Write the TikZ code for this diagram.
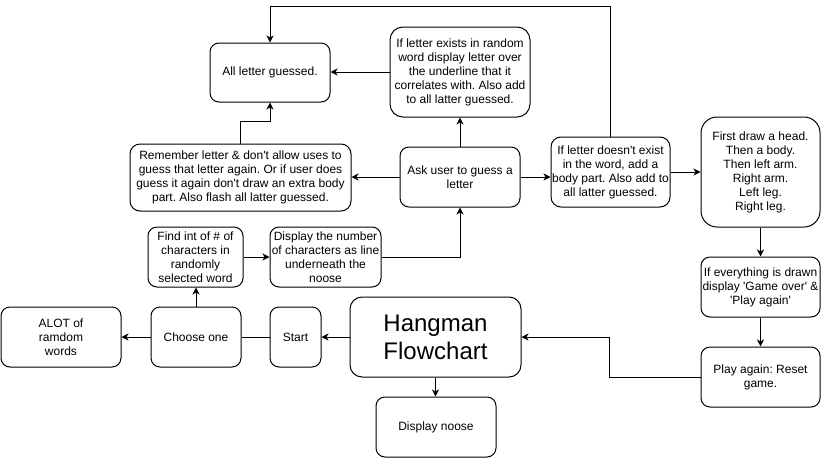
\documentclass[tikz,border=0pt]{standalone}
\usepackage{fontspec}
\setmainfont{Liberation Sans}[Ligatures=TeXOff]
\frenchspacing
\usetikzlibrary{arrows.meta, positioning}
\tikzset{
  every picture/.style={font=\fontsize{12}{14}\selectfont, line width=1pt, x=1pt, y=-1pt},
  box/.style={draw, rounded corners=9pt, align=center, inner sep=0pt},
  size/.style 2 args={minimum width=#1, minimum height=#2},
  arrow/.style={-{Stealth[length=7pt, width=7pt, inset=2pt]}},
  title/.style={font=\fontsize{24}{28}\selectfont},
}
\begin{document}
\begin{tikzpicture}
  \useasboundingbox (0,0) rectangle (821,458);
  % top part: guessing a letter
  \node[box, size={120}{59}] (allguessed) at (270,72.5) {All letter guessed.};
  \node[box, size={140}{90}, rounded corners=13pt] (exists) at (460,72)
    {If letter exists in random\\word display letter over\\the underline that it\\correlates with. Also add\\to all latter guessed.};
  \node[box, size={221}{67}, rounded corners=10pt] (remember) at (240.5,177.5)
    {Remember letter \& don't allow uses to\\guess that letter again. Or if user does\\guess it again don't draw an extra body\\part. Also flash all latter guessed.};
  \node[box, size={120}{60}] (ask) at (460,177) {Ask user to guess a\\letter};
  \node[box, size={119}{70}, rounded corners=10pt] (notexist) at (610.5,172)
    {If letter doesn't exist\\in the word, add a\\body part. Also add to\\all latter guessed.};
  \node[box, size={119}{110}, rounded corners=16pt] (drawparts) at (760.5,172)
    {First draw a head.\\Then a body.\\Then left arm.\\Right arm.\\Left leg.\\Right leg.};
  \node[box, size={119}{60}] (everything) at (760.5,287)
    {If everything is drawn\\display 'Game over' \&\\'Play again'};
  \node[box, size={119}{60}] (playagain) at (760.5,377) {Play again: Reset\\game.};
  % bottom part: setting up the word
  \node[box, size={95}{60}] (findint) at (195.5,257)
    {Find int of \# of\\characters in\\randomly\\selected word};
  \node[box, size={111}{60}] (shownum) at (325.5,257)
    {Display the number\\of characters as line\\underneath the\\noose};
  \node[box, size={120}{60}] (words) at (61,337) {ALOT of\\ramdom\\words};
  \node[box, size={90}{60}] (choose) at (196,337) {Choose one};
  \node[box, size={51}{60}] (start) at (295.5,337) {Start};
  \node[box, title, size={171}{80}, rounded corners=12pt] (hangman) at (435.5,337) {Hangman\\Flowchart};
  \node[box, size={120}{60}] (noose) at (436,427) {Display noose};

  \draw[arrow] (ask) -- (exists);
  \draw[arrow] (exists.west) -- (exists.west -| allguessed.east);
  \draw[arrow] (ask.west) -- (ask.west -| remember.east);
  \draw[arrow] (remember.north) -- ++(0,-22) -| (allguessed.south);
  \draw[arrow] (ask.east) -- (ask.east -| notexist.west);
  \draw[arrow] (notexist) -- (drawparts);
  \draw[arrow] (notexist.north) -- ++(0,-130) -| (allguessed.north);
  \draw[arrow] (drawparts) -- (everything);
  \draw[arrow] (everything) -- (playagain);
  \draw[arrow] (playagain.west) -- ++(-91,0) |- (hangman.east);
  \draw[arrow] (hangman) -- (start);
  \draw (start) -- (choose);
  \draw[arrow] (choose) -- (words);
  \draw[arrow] (choose.north) -- (choose.north |- findint.south);
  \draw[arrow] (findint) -- (shownum);
  \draw[arrow] (shownum.east) -| (ask.south);
  \draw[arrow] (hangman.south) -- (hangman.south |- noose.north);
\end{tikzpicture}
\end{document}
